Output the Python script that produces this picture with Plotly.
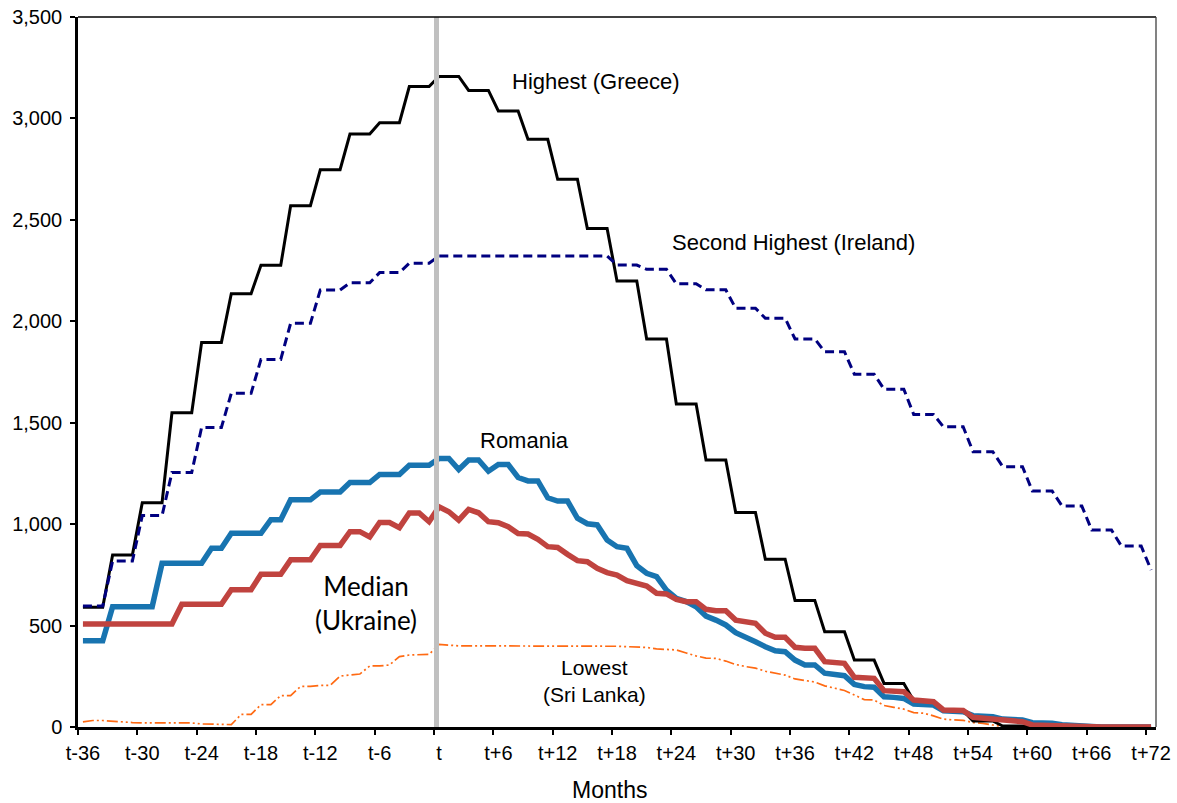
import plotly.graph_objects as go

# Months relative to t (category axis)
months = list(range(-36, 73))
tick_vals = [-36, -30, -24, -18, -12, -6, 0, 6, 12, 18, 24, 30, 36, 42, 48, 54, 60, 66, 72]
tick_text = ["t-36", "t-30", "t-24", "t-18", "t-12", "t-6", "t", "t+6", "t+12", "t+18",
             "t+24", "t+30", "t+36", "t+42", "t+48", "t+54", "t+60", "t+66", "t+72"]
y_ticks = [0, 500, 1000, 1500, 2000, 2500, 3000, 3500]

greece = [590, 590, 590, 848, 848, 848, 1106, 1106, 1106, 1549, 1549, 1549,
          1896, 1896, 1896, 2136, 2136, 2136, 2276, 2276, 2276, 2570, 2570, 2570,
          2747, 2747, 2747, 2923, 2923, 2923, 2979, 2979, 2979, 3157, 3157, 3157,
          3207, 3207, 3207, 3138, 3138, 3138, 3037, 3037, 3037, 2897, 2897, 2897,
          2700, 2700, 2700, 2458, 2458, 2458, 2199, 2199, 2199, 1913, 1913, 1913,
          1592, 1592, 1592, 1316, 1316, 1316, 1058, 1058, 1058, 827, 827, 827,
          624, 624, 624, 470, 470, 470, 330, 330, 330, 215, 215, 215,
          130, 130, 130, 80, 80, 80, 30, 30, 30, 5, 5, 5,
          0, 0, 0, 0, 0, 0, 0, 0, 0, 0, 0, 0, 0]

ireland = [596, 596, 596, 818, 818, 818, 1042, 1042, 1042, 1255, 1255, 1255,
           1477, 1477, 1477, 1645, 1645, 1645, 1812, 1812, 1812, 1990, 1990, 1990,
           2154, 2154, 2154, 2190, 2190, 2190, 2240, 2240, 2240, 2286, 2286, 2286,
           2322, 2322, 2322, 2322, 2322, 2322, 2322, 2322, 2322, 2322, 2322, 2322,
           2322, 2322, 2322, 2322, 2322, 2322,
           2277, 2277, 2277, 2256, 2256, 2256, 2185, 2185, 2185, 2155, 2155, 2155,
           2064, 2064, 2064, 2015, 2015, 2015, 1913, 1913, 1913, 1850, 1850, 1850,
           1739, 1739, 1739, 1665, 1665, 1665, 1541, 1541, 1541, 1480, 1480, 1480,
           1357, 1357, 1357, 1283, 1283, 1283, 1163, 1163, 1163, 1089, 1089, 1089,
           971, 971, 971, 892, 892, 892, 774]

romania = [425, 425, 425, 593, 593, 593, 593, 593, 807, 807, 807, 807, 807,
           881, 881, 955, 955, 955, 955, 1022, 1022, 1120, 1120, 1120,
           1158, 1158, 1158, 1205, 1205, 1205, 1245, 1245, 1245, 1290, 1290, 1290,
           1324, 1324, 1269, 1316, 1316, 1261, 1294, 1294, 1230, 1213,
           1213, 1130, 1114, 1114, 1029, 1002, 996, 922, 889, 881,
           795, 758, 741, 675, 634, 618, 593, 547, 527, 503,
           465, 445, 420, 396, 376, 371, 330, 306, 306, 265,
           256, 253, 210, 199, 196, 149, 146, 141, 113, 112,
           108, 80, 80, 75, 56, 54, 51, 39, 38, 34,
           21, 21, 18, 11, 10, 8, 2, 0, 0, 0, 0, 0, 0]

ukraine = [508, 508, 508, 508, 508, 508, 508, 508, 508, 508,
           605, 605, 605, 605, 605, 677, 677, 677, 753, 753, 753,
           824, 824, 824, 895, 895, 895, 963, 963, 937, 1008, 1008, 983, 1055, 1055, 1012,
           1085, 1061, 1020, 1073, 1056, 1012, 1007, 987, 954, 951,
           925, 889, 885, 851, 820, 815, 782, 761, 749, 721,
           708, 695, 659, 656, 629, 618, 618, 580, 573, 573,
           527, 519, 511, 462, 442, 442, 393, 388, 388, 322,
           317, 314, 245, 245, 240, 179, 174, 174, 133, 130,
           125, 84, 84, 81, 48, 43, 43, 34, 33, 26,
           10, 8, 7, 2, 0, 0, 0, 0, 0, 0, 0, 0, 0]

sri_lanka = [25, 32, 32, 28, 25, 22, 20, 20, 20, 20,
             20, 20, 15, 15, 12, 12, 62, 62, 110, 110,
             155, 155, 200, 200, 205, 205, 251, 256, 261, 301,
             301, 306, 347, 355, 358, 358,
             407, 403, 400, 400, 400, 400, 400, 400, 400, 400,
             400, 400, 400, 400, 400, 400, 400, 400,
             398, 396, 395, 392, 385, 382, 380, 365, 350, 340,
             338, 325, 308, 298, 290, 275, 265, 256, 237, 228,
             222, 203, 192, 180, 158, 135, 133, 106, 97, 88,
             71, 68, 55, 39, 35, 33, 22, 18, 10, 3,
             0, 0, 0, 0, 0, 0, 0, 0, 0, 0, 0, 0, 0, 0, 0]

FONT = "Liberation Sans, Arial, sans-serif"

fig = go.Figure()
fig.add_trace(go.Scatter(x=months, y=sri_lanka, mode="lines", name="Lowest (Sri Lanka)",
                         line=dict(color="#FF6A13", width=1.7, dash="11px,3px,2px,3px,2px,3px")))
fig.add_trace(go.Scatter(x=months, y=greece, mode="lines", name="Highest (Greece)",
                         line=dict(color="#000000", width=3)))
fig.add_trace(go.Scatter(x=months, y=ireland, mode="lines", name="Second Highest (Ireland)",
                         line=dict(color="#000080", width=3, dash="9px,5px")))
fig.add_trace(go.Scatter(x=months, y=romania, mode="lines", name="Romania",
                         line=dict(color="#1874B0", width=5.5)))
fig.add_trace(go.Scatter(x=months, y=ukraine, mode="lines", name="Median (Ukraine)",
                         line=dict(color="#C0433F", width=5.5)))

# vertical marker at t
fig.add_shape(type="line", xref="x", yref="paper", x0=-0.25, x1=-0.25, y0=0, y1=1,
              line=dict(color="#C0C0C0", width=5), layer="above")
# top and right frame
fig.add_shape(type="line", xref="paper", yref="paper", x0=0, x1=1, y0=1, y1=1,
              line=dict(color="#000000", width=1.3), layer="above")
fig.add_shape(type="line", xref="paper", yref="paper", x0=1, x1=1, y0=0, y1=1,
              line=dict(color="#404040", width=1.3), layer="above")

ann_font = dict(family=FONT, size=22, color="#000000")
fig.add_annotation(x=15.9, y=3180, text="Highest (Greece)", showarrow=False, font=ann_font)
fig.add_annotation(x=35.8, y=2386, text="Second Highest (Ireland)", showarrow=False, font=ann_font)
fig.add_annotation(x=8.6, y=1410, text="Romania", showarrow=False, font=ann_font)
fig.add_annotation(x=-7.4, y=611, text="Median<br>(Ukraine)", showarrow=False,
                   font=dict(family="Lato, Carlito, sans-serif", size=26, color="#000000"))
fig.add_annotation(x=15.7, y=227, text="Lowest<br>(Sri Lanka)", showarrow=False,
                   font=dict(family=FONT, size=21, color="#000000"))
# x-axis title
fig.add_annotation(xref="paper", yref="paper", x=0.4935, y=-0.0887, yanchor="middle",
                   text="Months", showarrow=False,
                   font=dict(family=FONT, size=23, color="#000000"))

fig.update_layout(
    width=1177, height=803, autosize=False,
    margin=dict(l=78, r=21, t=17, b=76),
    paper_bgcolor="white", plot_bgcolor="white",
    showlegend=False,
    font=dict(family=FONT, size=20, color="#000000"),
)
fig.update_xaxes(
    range=[-36.5, 72.5], tickmode="array", tickvals=tick_vals, ticktext=tick_text,
    ticks="", showgrid=False, zeroline=False, automargin=False,
    ticklabeloverflow="allow",
    showline=True, linecolor="#000000", linewidth=2.5,
    tickfont=dict(family=FONT, size=20, color="#000000"),
    ticklabelstandoff=6,
    minor=dict(tickmode="linear", tick0=-36.5, dtick=6, ticks="outside", ticklen=5,
               tickwidth=1.5, tickcolor="#000000", showgrid=False),
)
fig.update_yaxes(
    range=[0, 3500], tickmode="array", tickvals=y_ticks, tickformat=",",
    ticks="outside", ticklen=5, tickwidth=1.5, tickcolor="#000000",
    showgrid=False, zeroline=False, automargin=False,
    ticklabeloverflow="allow",
    showline=True, linecolor="#000000", linewidth=2.5,
    tickfont=dict(family=FONT, size=20, color="#000000"),
    ticklabelstandoff=4,
)

# remove the page's default 8px body margin so the figure sits at the window's corner
fig.write_html("out.html", config={"displayModeBar": False},
               post_script="document.body.style.margin='0px';")
